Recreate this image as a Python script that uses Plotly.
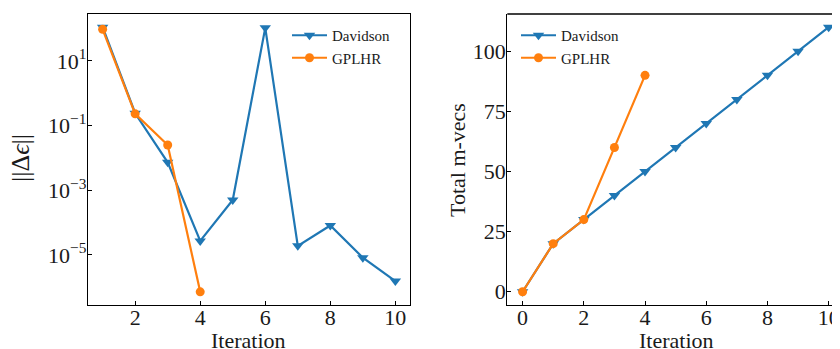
import plotly.graph_objects as go

# Left panel data
iter_dav = [1, 2, 3, 4, 5, 6, 7, 8, 9, 10]
dE_dav = [110, 0.24, 0.0073, 2.7e-5, 5e-4, 105, 1.9e-5, 8.1e-5, 8.2e-6, 1.55e-6]
iter_gp = [1, 2, 3, 4]
dE_gp = [95, 0.23, 0.025, 7.2e-7]

# Right panel data
it2_dav = [0, 1, 2, 3, 4, 5, 6, 7, 8, 9, 10]
mv_dav = [0, 20, 30, 40, 50, 60, 70, 80, 90, 100, 110]
it2_gp = [0, 1, 2, 3, 4]
mv_gp = [0, 20, 30, 60, 90]

log_tickvals = [1e1, 1e-1, 1e-3, 1e-5]
log_ticktext = ["10<sup>1</sup>", "10<sup>−1</sup>", "10<sup>−3</sup>", "10<sup>−5</sup>"]

BLUE = "#1f77b4"
ORANGE = "#ff7f0e"
FONT = "Liberation Serif"
TXT = "#1a1a1a"

W, H = 832, 341  # page body has an 8px margin

def px(x):
    return x / W

def py(y):
    return 1 - y / H

fig = go.Figure()
fig.add_trace(go.Scatter(x=iter_dav, y=dE_dav, mode="lines+markers", name="Davidson",
                         line=dict(color=BLUE, width=2.2),
                         marker=dict(symbol="triangle-down", size=10, color=BLUE),
                         xaxis="x", yaxis="y", legend="legend"))
fig.add_trace(go.Scatter(x=iter_gp, y=dE_gp, mode="lines+markers", name="GPLHR",
                         line=dict(color=ORANGE, width=2.2),
                         marker=dict(symbol="circle", size=9, color=ORANGE),
                         xaxis="x", yaxis="y", legend="legend"))
fig.add_trace(go.Scatter(x=it2_dav, y=mv_dav, mode="lines+markers", name="Davidson",
                         line=dict(color=BLUE, width=2.2),
                         marker=dict(symbol="triangle-down", size=10, color=BLUE),
                         xaxis="x2", yaxis="y2", legend="legend2"))
fig.add_trace(go.Scatter(x=it2_gp, y=mv_gp, mode="lines+markers", name="GPLHR",
                         line=dict(color=ORANGE, width=2.2),
                         marker=dict(symbol="circle", size=9, color=ORANGE),
                         xaxis="x2", yaxis="y2", legend="legend2"))

ax_common = dict(showgrid=False, zeroline=False, showline=True, linecolor="black",
                 linewidth=1.3, ticks="inside", ticklen=4, tickwidth=1, tickcolor="black",
                 automargin=False,
                 tickfont=dict(family=FONT, size=22, color=TXT))

ydom = [44 / H, 335 / H]

fig.update_layout(
    template="none",
    width=W, height=H,
    margin=dict(l=0, r=0, t=0, b=0, autoexpand=False),
    paper_bgcolor="white", plot_bgcolor="white",
    font=dict(family=FONT, size=21, color=TXT),
    xaxis=dict(domain=[px(80), px(402)], range=[0.55, 10.45], mirror=True,
               tickvals=[2, 4, 6, 8, 10], ticklabelstandoff=-8,
               anchor="y", **ax_common),
    yaxis=dict(domain=ydom, type="log", range=[-6.55, 2.45], mirror=True,
               tickvals=log_tickvals, ticktext=log_ticktext, ticklabelstandoff=-4,
               anchor="x", **ax_common),
    xaxis2=dict(domain=[px(499.3), 1.0], range=[-0.5, 10.37], mirror=False,
                tickvals=[0, 2, 4, 6, 8, 10], ticklabelstandoff=-8,
                anchor="y2", **ax_common),
    yaxis2=dict(domain=ydom, range=[-5.5, 115.5], mirror=False,
                tickvals=[0, 25, 50, 75, 100], ticklabelstandoff=-4,
                anchor="x2", **ax_common),
    legend=dict(x=px(279), y=py(11), xanchor="left", yanchor="top",
                bgcolor="rgba(0,0,0,0)", font=dict(family=FONT, size=15, color=TXT),
                itemwidth=35, tracegroupgap=0),
    legend2=dict(x=px(508), y=py(11), xanchor="left", yanchor="top",
                 bgcolor="rgba(0,0,0,0)", font=dict(family=FONT, size=15, color=TXT),
                 itemwidth=35, tracegroupgap=0),
    showlegend=True,
    annotations=[
        dict(text="Iteration", x=px(240.5), y=py(332), xref="paper", yref="paper",
             xanchor="center", yanchor="middle", showarrow=False,
             font=dict(family=FONT, size=22, color=TXT)),
        dict(text="Iteration", x=px(668), y=py(332), xref="paper", yref="paper",
             xanchor="center", yanchor="middle", showarrow=False,
             font=dict(family=FONT, size=22, color=TXT)),
        dict(text="||Δ<i>ϵ</i>||", x=px(12), y=py(150), xref="paper", yref="paper",
             xanchor="center", yanchor="middle", showarrow=False, textangle=-90,
             font=dict(family=FONT, size=26, color=TXT)),
        dict(text="Total m-vecs", x=px(449), y=py(152), xref="paper", yref="paper",
             xanchor="center", yanchor="middle", showarrow=False, textangle=-90,
             font=dict(family=FONT, size=22, color=TXT)),
    ],
)

# top spine of the right panel (right spine falls outside the picture)
fig.add_shape(type="line", xref="x2 domain", yref="y2 domain", x0=0, x1=1, y0=1, y1=1,
              line=dict(color="black", width=1.3))

fig.write_html("out.html")
